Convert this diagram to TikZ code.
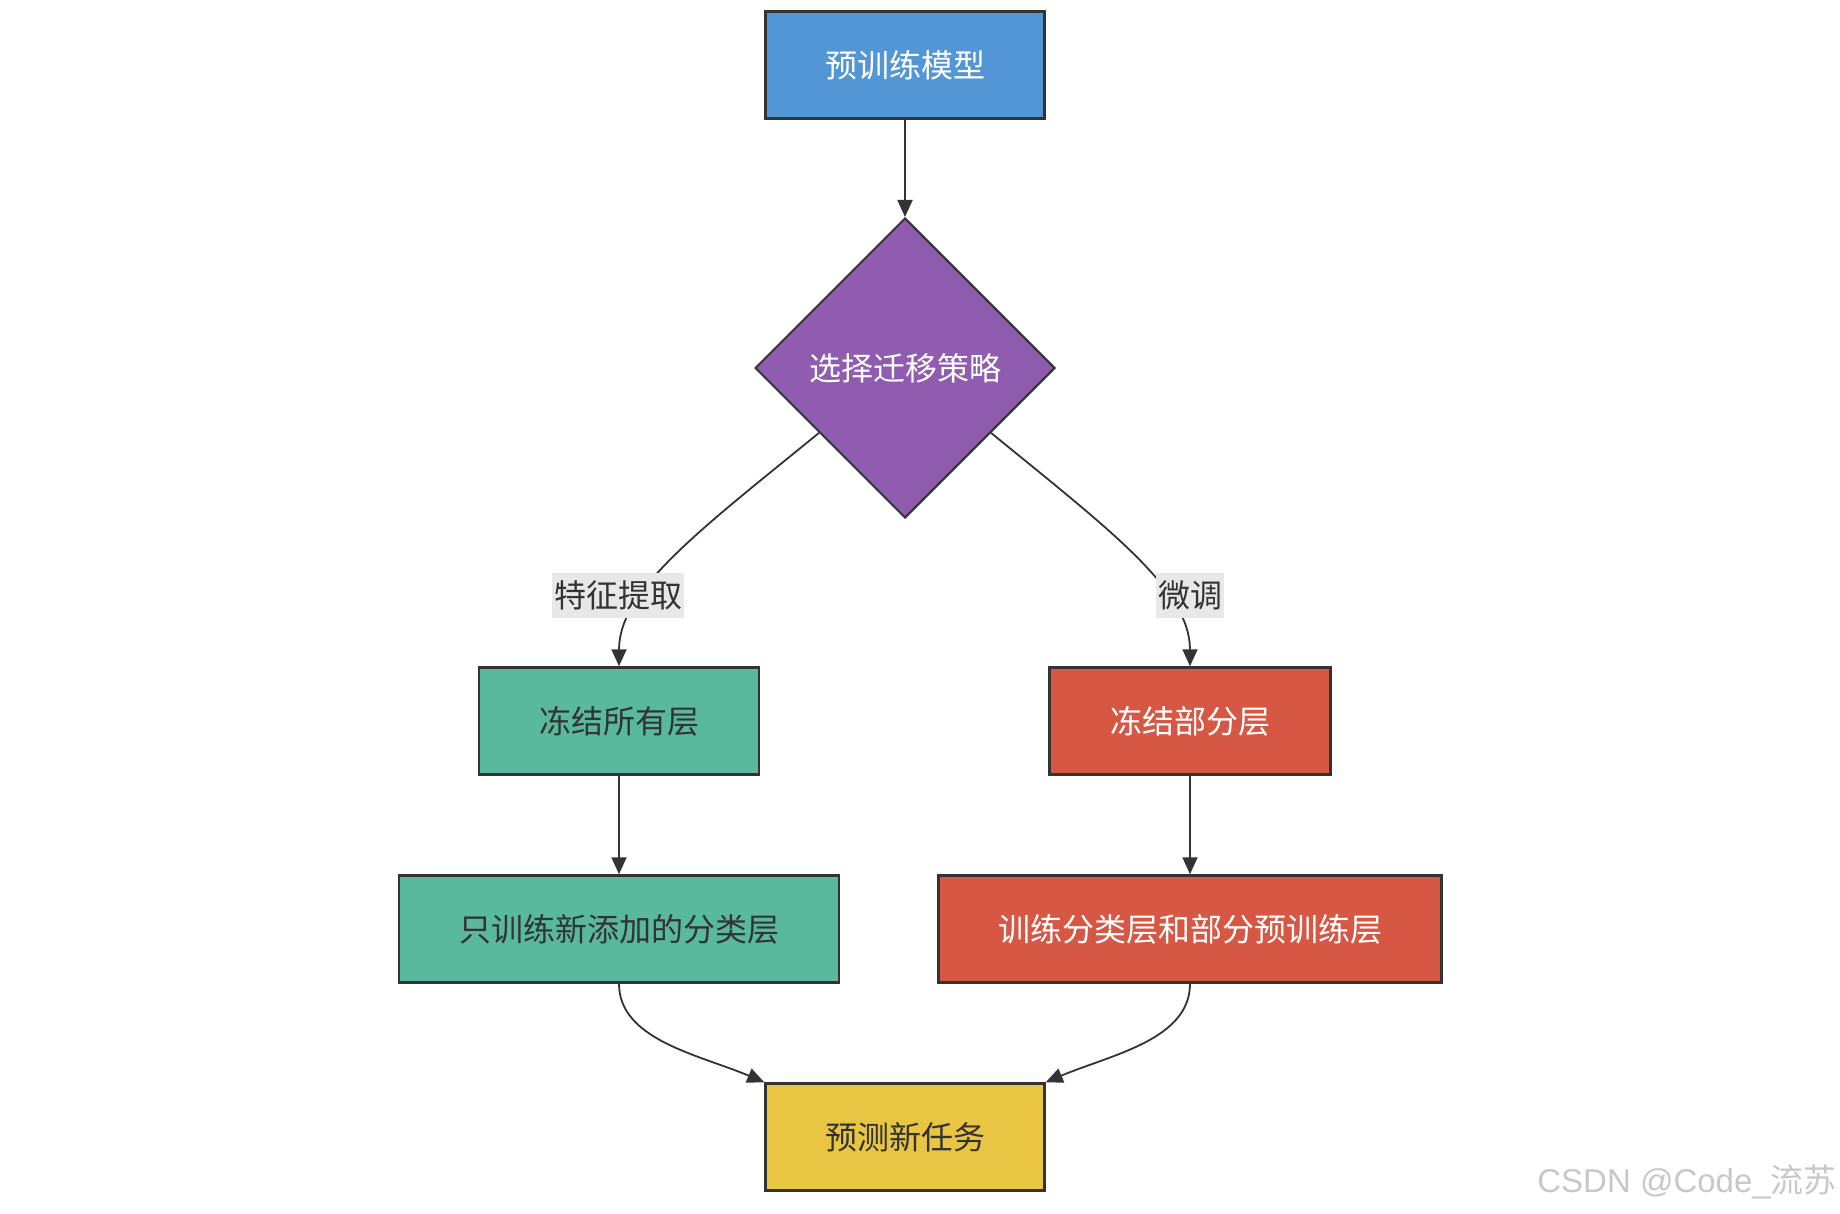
\documentclass[tikz,border=0pt]{standalone}
\usepackage{fontspec}
\setmainfont{Noto Sans CJK SC}
\newfontfamily\wmfont{Liberation Sans}
\usetikzlibrary{shapes.geometric,arrows.meta,calc}
\definecolor{linec}{HTML}{333333}
\definecolor{cblue}{HTML}{5296D5}
\definecolor{cpurple}{HTML}{8F5CB0}
\definecolor{cteal}{HTML}{59B99C}
\definecolor{cred}{HTML}{D75745}
\definecolor{cyellow}{HTML}{E8C542}
\definecolor{lblbg}{HTML}{E8E8E8}
\definecolor{wmark}{HTML}{C8C8C8}
\begin{document}
\begin{tikzpicture}[x=1pt,y=-1pt,
  box/.style={draw=linec, line width=2.5pt, rectangle, minimum height=107pt, inner sep=0pt,
    font=\fontsize{32}{36}\selectfont},
  lbl/.style={fill=lblbg, inner xsep=2pt, inner ysep=0pt, minimum height=45pt,
    text=linec, font=\fontsize{32}{36}\selectfont},
  edge/.style={draw=linec, line width=1.8pt, -{Triangle[length=17pt,width=15pt]}}]
\useasboundingbox (0,0) rectangle (1840,1214);
\fill[white] (0,0) rectangle (1840,1214);

\node[box, fill=cblue, text=white, minimum width=279pt] (pre) at (905,65) {预训练模型};
\node[diamond, draw=linec, line width=2pt, fill=cpurple, text=white, aspect=1,
  minimum width=300pt, minimum height=300pt, inner sep=0pt,
  font=\fontsize{32}{36}\selectfont] (dia) at (905,368) {选择迁移策略};
\node[box, fill=cteal, text=linec, minimum width=280pt] (fa) at (619,721) {冻结所有层};
\node[box, fill=cred, text=white, minimum width=281pt] (fp) at (1190,721) {冻结部分层};
\node[box, fill=cteal, text=linec, minimum width=440pt] (tn) at (619,929) {只训练新添加的分类层};
\node[box, fill=cred, text=white, minimum width=503pt] (tp) at (1190,929) {训练分类层和部分预训练层};
\node[box, fill=cyellow, text=linec, minimum width=279pt] (pt) at (905,1137) {预测新任务};

\coordinate (dl) at ($(dia.west)!0.43!(dia.south)$);
\coordinate (dr) at ($(dia.east)!0.43!(dia.south)$);

\draw[edge] (pre.south) -- (dia.north);
\draw[edge] (dl) .. controls (700,530) and (619,590) .. (fa.north);
\draw[edge] (dr) .. controls (1110,530) and (1190,590) .. (fp.north);
\draw[edge] (fa.south) -- (tn.north);
\draw[edge] (fp.south) -- (tp.north);
\draw[edge] (tn.south) .. controls (619,1040) and (700,1055) .. (pt.north west);
\draw[edge] (tp.south) .. controls (1190,1040) and (1110,1055) .. (pt.north east);

\node[lbl] (l1) at (618,595) {特征提取};
\node[lbl] (l2) at (1190,595) {微调};

\node[anchor=east, text=wmark, inner sep=0pt, font=\fontsize{33}{36}\selectfont] (wm) at (1837,1182) {{\wmfont CSDN @Code\_}流苏};
\end{tikzpicture}
\end{document}
